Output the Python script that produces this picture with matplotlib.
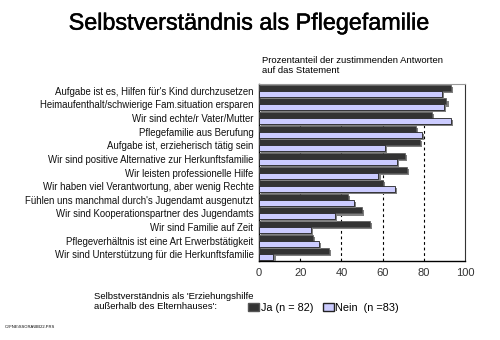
import numpy as np
import matplotlib.pyplot as plt
import matplotlib.patheffects as pe
from matplotlib.patches import Rectangle

plt.rcParams['font.family'] = ['Liberation Sans', 'DejaVu Sans']

# Aussagen und Zustimmung in Prozent
aussagen = [
    "Aufgabe ist es, Hilfen für's Kind durchzusetzen",
    "Heimaufenthalt/schwierige Fam.situation ersparen",
    "Wir sind echte/r Vater/Mutter",
    "Pflegefamilie aus Berufung",
    "Aufgabe ist, erzieherisch tätig sein",
    "Wir sind positive Alternative zur Herkunftsfamilie",
    "Wir leisten professionelle Hilfe",
    "Wir haben viel Verantwortung, aber wenig Rechte",
    "Fühlen uns manchmal durch's Jugendamt ausgenutzt",
    "Wir sind Kooperationspartner des Jugendamts",
    "Wir sind Familie auf Zeit",
    "Pflegeverhältnis ist eine Art Erwerbstätigkeit",
    "Wir sind Unterstützung für die Herkunftsfamilie",
]
ja = [93, 91, 84, 76, 78, 71, 72, 60, 43, 50, 54, 26, 34]
nein = [89, 90, 93, 79, 61, 67, 58, 66, 46, 37, 25, 29, 7]
xticks = [0, 20, 40, 60, 80, 100]

fig = plt.figure(figsize=(5, 3.4), dpi=100)
ax = fig.add_axes([0.518, 0.232, 0.412, 0.521])

y = np.arange(len(aussagen))
h = 0.44
schatten = [pe.SimplePatchShadow(offset=(1.5, -1.5), shadow_rgbFace='#808080', alpha=1), pe.Normal()]

b1 = ax.barh(y - h / 2, ja, height=h, color='#333333', edgecolor='#555555', linewidth=0.5, zorder=3)
b2 = ax.barh(y + h / 2, nein, height=h, color='#ccccff', edgecolor='#222222', linewidth=0.6, zorder=3)
for b in list(b1) + list(b2):
    b.set_path_effects(schatten)

# gestrichelte Hilfslinien
for x in xticks[1:-1]:
    ax.axvline(x, color='black', linestyle=(0, (2.5, 2.5)), linewidth=0.8, zorder=1)

ax.set_xlim(0, 100)
ax.set_ylim(len(aussagen) - 0.5, -0.5)
ax.set_xticks(xticks)
ax.set_yticks(y)
ax.set_yticklabels(aussagen, fontsize=6.9, color='#111111')
ax.tick_params(axis='x', length=0, pad=5, labelsize=8, colors='#333333')
ax.tick_params(axis='y', length=0, pad=4)
for s in ['left', 'bottom']:
    ax.spines[s].set_color('black')
    ax.spines[s].set_linewidth(1)
ax.spines['top'].set_color('#999999')
ax.spines['right'].set_color('#333333')
ax.spines['top'].set_linewidth(0.8)
ax.spines['right'].set_linewidth(0.8)

fig.text(0.5, 0.932, "Selbstverständnis als Pflegefamilie", ha='center', va='center', fontsize=16.8,
         path_effects=[pe.withStroke(linewidth=0.35, foreground='black')])
fig.text(0.524, 0.835, "Prozentanteil der zustimmenden Antworten\nauf das Statement",
         ha='left', va='top', fontsize=6.8, linespacing=1.15)

# Legende
fig.text(0.188, 0.113, "Selbstverständnis als 'Erziehungshilfe\naußerhalb des Elternhauses':",
         ha='left', va='center', fontsize=6.8, linespacing=1.2)
fig.legend([Rectangle((0, 0), 1, 1, facecolor='#333333', edgecolor='#555555'),
            Rectangle((0, 0), 1, 1, facecolor='#ccccff', edgecolor='#222222')],
           ['Ja (n = 82)', 'Nein  (n =83)'], loc='center left', bbox_to_anchor=(0.488, 0.095),
           ncol=2, frameon=False, fontsize=7.8, handlelength=1.0, handleheight=0.7,
           handletextpad=0.15, columnspacing=0.9, borderaxespad=0)

fig.text(0.01, 0.037, "C:\\FNE\\SSORA\\BB22.PRS", fontsize=3, ha='left', va='center')

plt.savefig('out.png', dpi=100)
